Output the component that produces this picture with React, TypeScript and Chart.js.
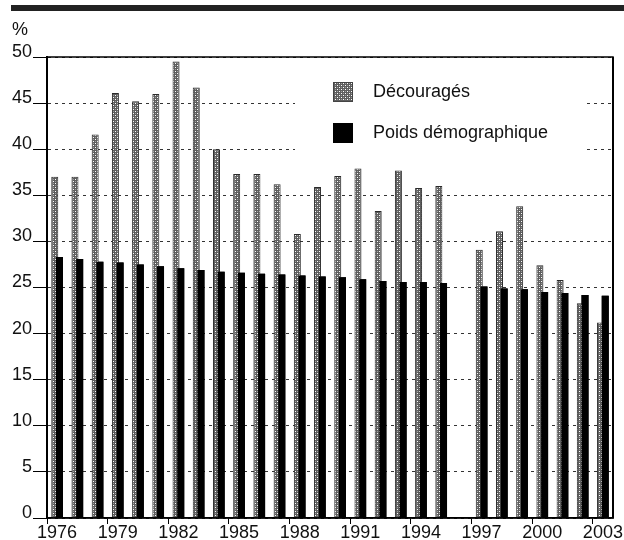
import { useEffect, useRef } from "react";
import { Chart, registerables } from "chart.js";

Chart.register(...registerables);

const years = [
  "1976", "1977", "1978", "1979", "1980", "1981", "1982", "1983", "1984", "1985",
  "1986", "1987", "1988", "1989", "1990", "1991", "1992", "1993", "1994", "1995",
  "1996", "1997", "1998", "1999", "2000", "2001", "2002", "2003",
];
const shownYears = ["1976", "1979", "1982", "1985", "1988", "1991", "1994", "1997", "2000", "2003"];

// 1996 : pas de données
const decourages = [
  37.0, 37.0, 41.6, 46.1, 45.2, 46.0, 49.5, 46.7, 40.0, 37.3,
  37.3, 36.2, 30.8, 35.9, 37.1, 37.9, 33.3, 37.7, 35.8, 36.0,
  null, 29.1, 31.1, 33.8, 27.4, 25.8, 23.3, 21.2,
];
const poids = [
  28.3, 28.1, 27.8, 27.7, 27.5, 27.3, 27.1, 26.9, 26.7, 26.6,
  26.5, 26.4, 26.3, 26.2, 26.1, 25.9, 25.7, 25.6, 25.6, 25.5,
  null, 25.1, 24.9, 24.8, 24.5, 24.4, 24.2, 24.1,
];
const seriesNames = ["Découragés", "Poids démographique"];

const FONT = "'Liberation Sans', Arial, sans-serif";

// petit motif gris à points blancs pour les "Découragés"
const makeDots = (ctx: CanvasRenderingContext2D) => {
  const tile = document.createElement("canvas");
  tile.width = 4;
  tile.height = 4;
  const t = tile.getContext("2d")!;
  t.fillStyle = "#5e5e5e";
  t.fillRect(0, 0, 4, 4);
  t.fillStyle = "#ffffff";
  t.fillRect(1, 1, 1, 1);
  t.fillRect(3, 3, 1, 1);
  t.fillStyle = "#9c9c9c";
  t.fillRect(1, 3, 1, 1);
  t.fillRect(3, 1, 1, 1);
  return ctx.createPattern(tile, "repeat")!;
};

const App = () => {
  const canvasRef = useRef<HTMLCanvasElement>(null);

  useEffect(() => {
    document.body.style.margin = "0";
    const ctx = canvasRef.current!.getContext("2d")!;
    const dots = makeDots(ctx);

    const decor = {
      id: "decor",
      beforeDatasetsDraw(chart: any) {
        const c = chart.ctx;
        // legende dans le cadre, fond blanc qui coupe les pointilles
        c.save();
        c.fillStyle = "#fff";
        c.fillRect(295, 62, 292, 100);
        c.fillStyle = dots;
        c.fillRect(333, 82, 20, 20);
        c.strokeStyle = "#444";
        c.lineWidth = 1;
        c.strokeRect(333.5, 82.5, 19, 19);
        c.fillStyle = "#000";
        c.fillRect(333, 123, 20, 20);
        c.font = `18px ${FONT}`;
        c.fillStyle = "#111";
        c.textBaseline = "middle";
        c.fillText(seriesNames[0], 373, 92);
        c.fillText(seriesNames[1], 373, 133);
        c.restore();
      },
      afterDatasetsDraw(chart: any) {
        // barres noires par-dessus les barres tramees
        chart.getDatasetMeta(1).controller.draw();
        const { left, right, top, bottom } = chart.chartArea;
        const c = chart.ctx;
        c.save();
        c.strokeStyle = "#000";
        c.lineWidth = 1.5;
        c.strokeRect(left, top, right - left, bottom - top);
        c.lineWidth = 2;
        c.beginPath();
        c.moveTo(left, top);
        c.lineTo(left, bottom);
        c.moveTo(right, top);
        c.lineTo(right, bottom);
        c.stroke();
        c.fillStyle = "#222";
        c.fillRect(11, 5, 613, 6);
        c.fillStyle = "#111";
        c.font = `18px ${FONT}`;
        c.textBaseline = "alphabetic";
        c.fillText("%", 12, 35);
        c.restore();
      },
    };

    const chart = new Chart(ctx, {
      type: "bar",
      data: {
        labels: years,
        datasets: [
          {
            label: seriesNames[0],
            data: decourages,
            backgroundColor: dots,
            borderColor: "#2a2a2a",
            borderWidth: 1,
          },
          {
            label: seriesNames[1],
            data: poids,
            backgroundColor: "#000",
            borderWidth: 0,
          },
        ],
      },
      options: {
        responsive: false,
        animation: false,
        datasets: {
          bar: { categoryPercentage: 0.465, barPercentage: 1.49 },
        },
        layout: { padding: { top: 57, right: 11, left: 0, bottom: 0 } },
        plugins: {
          legend: { display: false },
          tooltip: { enabled: false },
        },
        scales: {
          x: {
            afterFit: (s: any) => {
              s.height = 22;
            },
            grid: {
              offset: true,
              drawOnChartArea: false,
              tickLength: 6,
              color: (c: any) => (c.index % 3 === 0 ? "#000" : "rgba(0,0,0,0)"),
            },
            border: { display: true, color: "#000", width: 1.5 },
            ticks: {
              autoSkip: false,
              maxRotation: 0,
              padding: -2,
              color: "#111",
              font: { family: FONT, size: 18 },
              callback: (_v: any, i: number) => (shownYears.includes(years[i]) ? years[i] : ""),
            },
          },
          y: {
            min: 0,
            max: 50,
            afterFit: (s: any) => {
              s.width = 47;
            },
            grid: {
              color: "#333",
              lineWidth: 1,
              tickLength: 14,
              tickColor: "#000",
            },
            border: { display: true, color: "#000", width: 2, dash: [3, 4] },
            ticks: {
              stepSize: 5,
              padding: 1,
              labelOffset: -5,
              color: "#111",
              font: { family: FONT, size: 18 },
            },
          },
        },
      },
      plugins: [decor],
    });

    return () => {
      chart.destroy();
    };
  }, []);

  return (
    <div style={{ width: 624, height: 540, background: "#fff" }}>
      <canvas ref={canvasRef} width={624} height={540}></canvas>
    </div>
  );
};

export default App;
